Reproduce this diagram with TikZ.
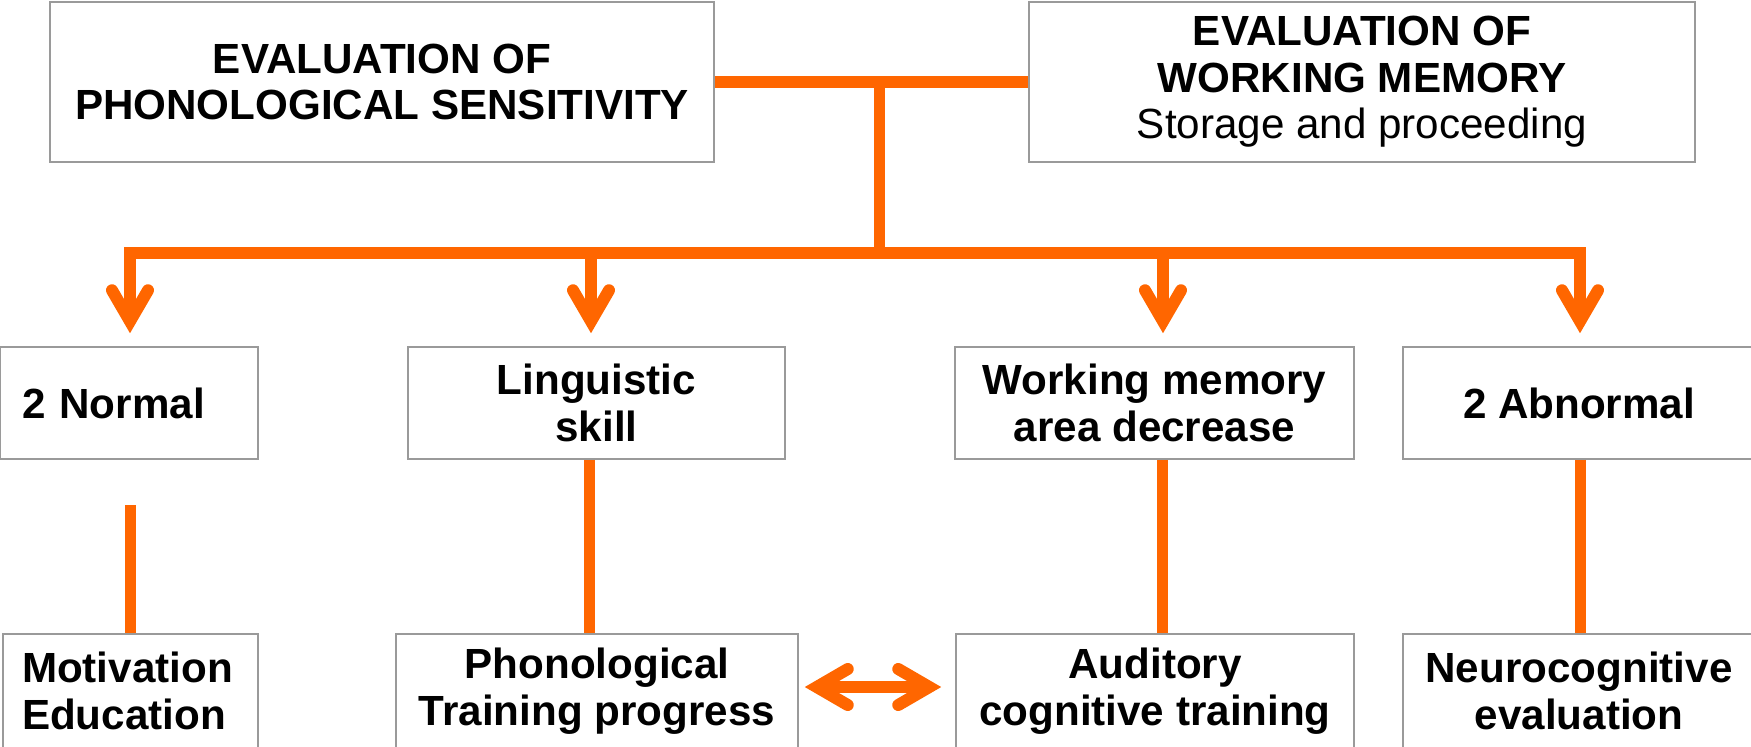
\documentclass[tikz,border=0pt]{standalone}
\usepackage{fontspec}
\setmainfont{Liberation Sans}
\usetikzlibrary{arrows.meta}
\definecolor{linkorange}{HTML}{FF6600}
\definecolor{boxgray}{HTML}{9A9A9A}

\begin{document}
\begin{tikzpicture}[x=0.1mm,y=-0.1mm,
  every node/.style={font=\fontsize{12}{13.2}\selectfont\bfseries},
  box/.style={draw=boxgray,line width=0.45pt,inner sep=0pt,align=center,minimum height=11.2mm},
  link/.style={draw=linkorange,line width=1.2mm},
  >={Straight Barb[length=3.1mm,width=3.6mm,line cap=round,line join=miter]}]
\useasboundingbox (0,0) rectangle (1751,746);
% evaluation boxes
\node[box,minimum width=66.4mm,minimum height=16mm] (phon) at (382,82) {EVALUATION OF\\ PHONOLOGICAL SENSITIVITY};
\node[box,minimum width=66.6mm,minimum height=16mm] (wm) at (1362,82) {EVALUATION OF\\ WORKING MEMORY\\ \mdseries Storage and proceeding};
% results
\node[box,minimum width=25.8mm,text width=21.4mm,inner xsep=2.2mm,align=left] (norm) at (129,403) {2 Normal};
\node[box,minimum width=37.7mm] (ling) at (596.5,403) {Linguistic\\ skill};
\node[box,minimum width=39.9mm] (wmdec) at (1154.5,403) {Working memory\\ area decrease};
\node[box,minimum width=35.2mm] (abn) at (1579,403) {2 Abnormal};
% actions
\node[box,minimum width=25.5mm,minimum height=11.4mm,text width=21.7mm,inner xsep=1.9mm,align=left] (motiv) at (130.5,691) {Motivation\\ Education};
\node[box,minimum width=40.2mm,minimum height=11.4mm] (phtr) at (597,691) {Phonological\\ Training progress};
\node[box,minimum width=39.8mm,minimum height=11.4mm] (aud) at (1155,691) {Auditory\\ cognitive training};
\node[box,minimum width=35.2mm,minimum height=11.4mm] (neuro) at (1579,691) {Neurocognitive\\ evaluation};
% joining the two evaluations
\draw[link] (phon) -- (wm);
\coordinate (hub) at (879,82);
\coordinate (split) at (879,253);
\draw[link,line width=1.1mm] (hub) -- (split);
% distribution bar and arrows
\coordinate (barL) at (124,253);
\coordinate (barR) at (1586,253);
\draw[link] (barL) -- (barR);
\foreach \x/\dst in {130/norm,591/ling,1163/wmdec,1580/abn} {
  \coordinate (t\dst) at (\x,247);
  \draw[link,->,shorten >=1.3mm] (t\dst) -- (t\dst |- \dst.north);
}
% down to the actions
\coordinate (normgap) at (130,505);
\draw[link,line width=1.1mm] (normgap) -- (normgap |- motiv.north);
\foreach \src/\dst/\dx in {ling/phtr/-0.75mm,wmdec/aud/0.75mm,abn/neuro/0.1mm} {
  \draw[link,line width=1.1mm] ([xshift=\dx]\src.south) -- ([xshift=\dx]\src.south |- \dst.north);
}
\draw[link,<->,shorten <=0.6mm,shorten >=1.4mm] ([yshift=0.4mm]phtr.east) -- ([yshift=0.4mm]aud.west);
\end{tikzpicture}
\end{document}
